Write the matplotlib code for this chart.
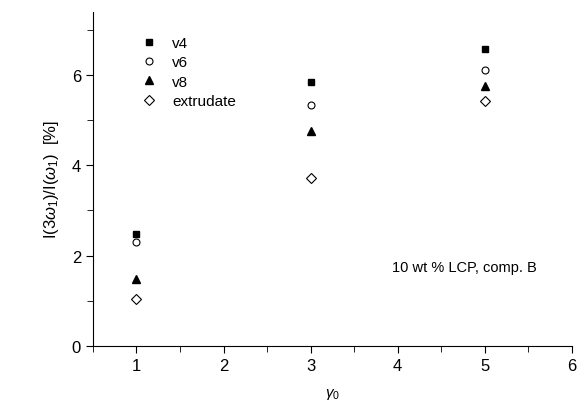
import matplotlib
matplotlib.use('Agg')
import matplotlib.pyplot as plt
from matplotlib.ticker import MultipleLocator

plt.rcParams['font.family'] = ['Liberation Sans', 'DejaVu Sans']
plt.rcParams['mathtext.fontset'] = 'custom'
plt.rcParams['mathtext.rm'] = 'Liberation Sans'
plt.rcParams['mathtext.it'] = 'Liberation Sans:italic'

# data
gamma = [1, 3, 5]
v4 = [2.48, 5.84, 6.59]
v6 = [2.30, 5.33, 6.11]
v8 = [1.48, 4.76, 5.76]
extrudate = [1.04, 3.73, 5.42]

fig = plt.figure(figsize=(5.77, 4.06), dpi=100)
ax = fig.add_axes([0.161, 0.146, 0.830, 0.822])

ax.plot(gamma, v4, 's', color='black', ms=5, label='v4')
ax.plot(gamma, v6, 'o', mfc='white', mec='black', ms=5, mew=0.8, label='v6')
ax.plot(gamma, v8, '^', color='black', ms=6, label='v8')
ax.plot(gamma, extrudate, 'D', mfc='white', mec='black', ms=5, mew=0.8, label='extrudate')

ax.set_xlim(0.5, 6)
ax.set_ylim(0, 7.4)
ax.xaxis.set_major_locator(MultipleLocator(1))
ax.xaxis.set_minor_locator(MultipleLocator(0.5))
ax.yaxis.set_major_locator(MultipleLocator(2))
ax.yaxis.set_minor_locator(MultipleLocator(1))
ax.spines['top'].set_visible(False)
ax.spines['right'].set_visible(False)
ax.tick_params(which='both', direction='out', labelsize=12)
ax.tick_params(which='major', length=5)
ax.tick_params(which='minor', length=4)

ax.set_xlabel(r'$\gamma_0$', fontsize=11, labelpad=10)
ax.set_ylabel(r'I(3$\omega_1$)/I($\omega_1$)  [%]', fontsize=12, labelpad=8)

ax.text(3.94, 1.75, '10 wt % LCP, comp. B', fontsize=10.5, va='center')

ax.legend(loc='upper left', bbox_to_anchor=(0.06, 0.965), frameon=False,
          fontsize=11, handletextpad=0.5, labelspacing=0.35, borderpad=0.3)

fig.savefig('out.png', dpi=100)
